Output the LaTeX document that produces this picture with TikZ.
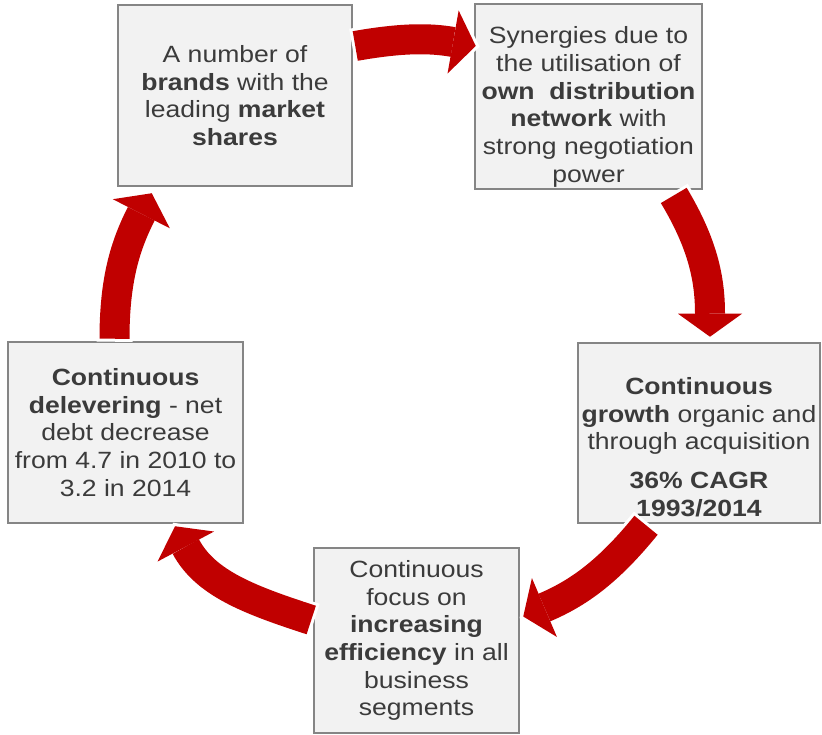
\documentclass[tikz,border=0pt]{standalone}
\usepackage{fontspec}
\setmainfont{Liberation Sans}[FakeStretch=1.13]
\usepackage{tikz}
\usetikzlibrary{arrows.meta,calc}

\definecolor{boxfill}{HTML}{F2F2F2}
\definecolor{boxline}{HTML}{858585}
\definecolor{boxtext}{HTML}{3B3B3B}
\definecolor{cycred}{HTML}{C00000}

\begin{document}
\begin{tikzpicture}[
    x=1pt, y=1pt,
    font=\fontsize{23.5}{27.7}\selectfont,
    box/.style={draw=boxline, fill=boxfill, line width=2.5pt, inner sep=2pt,
                align=center, text=boxtext},
    cyc/.style={draw=cycred, line width=30pt,
                -{Triangle[width=64pt,length=23pt,line width=0pt]},
                preaction={draw=white, line width=36pt, shorten >=-4pt, shorten <=-3pt,
                           -{Triangle[width=80pt,length=30pt,line width=0pt]}}}
]
\useasboundingbox (0,0) rectangle (822,734);

% the five stages of the cycle
\node [box, minimum width=234pt, minimum height=181pt] (brands) at (235,638.5)
    {A number of\\\textbf{brands} with the\\leading \textbf{market}\\\textbf{shares}};
\node [box, minimum width=227pt, minimum height=185pt] (synergy) at (588.5,637.5)
    {\rule{0pt}{38pt}Synergies due to\\the utilisation of\\\textbf{own\ \ distribution}\\\textbf{network} with\\strong negotiation\\power};
\node [box, minimum width=242pt, minimum height=180pt] (growth) at (699,301)
    {\rule{0pt}{45pt}\textbf{Continuous}\\\textbf{growth} organic and\\through acquisition\\[11pt]\textbf{36\% CAGR}\\\textbf{1993/2014}};
\node [box, minimum width=205pt, minimum height=185pt] (focus) at (416.5,93.5)
    {Continuous\\focus on\\\textbf{increasing}\\\textbf{efficiency} in all\\business\\segments};
\node [box, minimum width=235pt, minimum height=181pt] (delever) at (125.5,301.5)
    {\textbf{Continuous}\\\textbf{delevering} - net\\debt decrease\\from 4.7 in 2010 to\\3.2 in 2014};

% arrow ends, taken from the boxes
\coordinate (a1s) at ($(brands.east)+(2,49.5)$);
\coordinate (a1e) at ($(synergy.west)+(2,50.5)$);
\coordinate (a2s) at ($(synergy.south east)+(-29.5,-5)$);
\coordinate (a2e) at ($(growth.north)+(11,5)$);
\coordinate (a3s) at ($(growth.south)+(-53,-1)$);
\coordinate (a3e) at ($(focus.east)+(3,24)$);
\coordinate (a4s) at ($(focus.west)+(-1.5,20.5)$);
\coordinate (a4e) at ($(delever.south)+(49.5,-2)$);
\coordinate (a5s) at ($(delever.north)+(-11,2)$);
\coordinate (a5e) at ($(brands.south west)+(35,-6)$);

% red cycle arrows
\draw [cyc] (a1s) to[out=10, in=170] (a1e);
\draw [cyc] (a2s) to[out=-59, in=90] (a2e);
\draw [cyc] (a3s) to[out=231, in=23] (a3e);
\draw [cyc] (a4s) to[out=162, in=-62] (a4e);
\draw [cyc] (a5s) to[out=90, in=-117] (a5e);

\end{tikzpicture}
\end{document}
